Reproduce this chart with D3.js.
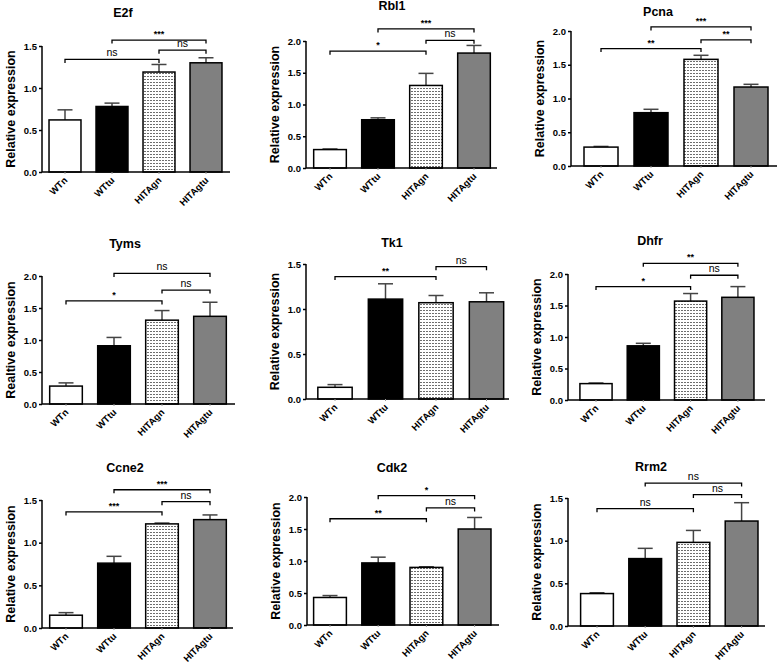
<!DOCTYPE html>
<html><head><meta charset="utf-8">
<script src="https://cdn.jsdelivr.net/npm/d3@7"></script>
<style>
html,body{margin:0;padding:0;background:#fff;}
svg{display:block;font-family:"Liberation Sans",Arial,Helvetica,sans-serif;}
</style></head>
<body>
<svg id="chart" width="778" height="666"></svg>
<script>
// ---------------- DATA ----------------
const groups = ["WTn", "WTtu", "HITAgn", "HITAgtu"];
const genes = ["E2f", "Rbl1", "Pcna", "Tyms", "Tk1", "Dhfr", "Ccne2", "Cdk2", "Rrm2"];
const yAxisTitles = ["Relative expression", "Relative expression", "Relative expression",
  "Realtive expression", "Relative expression", "Relative expression",
  "Relative expression", "Relative expression", "Relative expression"];
const yMaxes = [1.5, 2.0, 2.0, 2.0, 1.5, 2.0, 1.5, 2.0, 1.5];
const ticks15 = [0, 0.5, 1.0, 1.5];
const ticks20 = [0, 0.5, 1.0, 1.5, 2.0];

const meanE2f = [0.62, 0.78, 1.19, 1.30];   const errE2f = [0.12, 0.04, 0.09, 0.06];
const meanRbl1 = [0.29, 0.76, 1.30, 1.81];  const errRbl1 = [0.01, 0.03, 0.19, 0.12];
const meanPcna = [0.28, 0.79, 1.58, 1.17];  const errPcna = [0.01, 0.05, 0.06, 0.04];
const meanTyms = [0.28, 0.91, 1.31, 1.37];  const errTyms = [0.05, 0.13, 0.15, 0.22];
const meanTk1 = [0.13, 1.11, 1.07, 1.08];   const errTk1 = [0.03, 0.17, 0.08, 0.10];
const meanDhfr = [0.26, 0.86, 1.57, 1.63];  const errDhfr = [0.01, 0.04, 0.12, 0.17];
const meanCcne2 = [0.15, 0.76, 1.22, 1.27]; const errCcne2 = [0.03, 0.08, 0.01, 0.055];
const meanCdk2 = [0.43, 0.97, 0.90, 1.50];  const errCdk2 = [0.03, 0.09, 0.01, 0.18];
const meanRrm2 = [0.38, 0.79, 0.98, 1.23];  const errRrm2 = [0.01, 0.12, 0.14, 0.215];

// significance brackets: [from, to, label, height in data units]
const sigE2f = [["WTn","HITAgn","ns",1.34],["HITAgn","HITAgtu","ns",1.45],["WTtu","HITAgtu","***",1.57]];
const sigRbl1 = [["WTn","HITAgn","*",1.84],["HITAgn","HITAgtu","ns",2.01],["WTtu","HITAgtu","***",2.19]];
const sigPcna = [["WTn","HITAgn","**",1.74],["HITAgn","HITAgtu","**",1.87],["WTtu","HITAgtu","***",2.06]];
const sigTyms = [["WTn","HITAgn","*",1.61],["HITAgn","HITAgtu","ns",1.78],["WTtu","HITAgtu","ns",2.04]];
const sigTk1 = [["WTn","HITAgn","**",1.36],["HITAgn","HITAgtu","ns",1.47]];
const sigDhfr = [["WTn","HITAgn","*",1.80],["HITAgn","HITAgtu","ns",1.98],["WTtu","HITAgtu","**",2.17]];
const sigCcne2 = [["WTn","HITAgn","***",1.36],["HITAgn","HITAgtu","ns",1.48],["WTtu","HITAgtu","***",1.62]];
const sigCdk2 = [["WTn","HITAgn","**",1.66],["HITAgn","HITAgtu","ns",1.83],["WTtu","HITAgtu","*",2.02]];
const sigRrm2 = [["WTn","HITAgn","ns",1.375],["HITAgn","HITAgtu","ns",1.54],["WTtu","HITAgtu","ns",1.675]];

const allMeans = [meanE2f, meanRbl1, meanPcna, meanTyms, meanTk1, meanDhfr, meanCcne2, meanCdk2, meanRrm2];
const allErrs = [errE2f, errRbl1, errPcna, errTyms, errTk1, errDhfr, errCcne2, errCdk2, errRrm2];
const allSigs = [sigE2f, sigRbl1, sigPcna, sigTyms, sigTk1, sigDhfr, sigCcne2, sigCdk2, sigRrm2];

// ---------------- LAYOUT (pixels) ----------------
const layout = [
  {ax: 42,  y0: 172, yTop: 46,  c0: 65,  step: 47,   xEnd: 230, tx: 123, ty: 13},
  {ax: 306, y0: 168, yTop: 41,  c0: 330, step: 48,   xEnd: 497, tx: 392, ty: 6},
  {ax: 571, y0: 166, yTop: 31,  c0: 601, step: 50,   xEnd: 777, tx: 658, ty: 12},
  {ax: 42,  y0: 404, yTop: 276, c0: 66,  step: 48,   xEnd: 235, tx: 125, ty: 244},
  {ax: 306, y0: 399, yTop: 264, c0: 335, step: 50.5, xEnd: 509, tx: 392, ty: 243},
  {ax: 568, y0: 400, yTop: 274, c0: 596, step: 47.3, xEnd: 765, tx: 650, ty: 241},
  {ax: 42,  y0: 628, yTop: 500, c0: 66,  step: 48,   xEnd: 233, tx: 125, ty: 468},
  {ax: 307, y0: 625, yTop: 497, c0: 330, step: 48.2, xEnd: 499, tx: 392, ty: 468},
  {ax: 568, y0: 626, yTop: 498, c0: 597, step: 48.2, xEnd: 765, tx: 651, ty: 467}
];
const fills = ["#ffffff", "#000000", "url(#dots)", "#808080"];

// ---------------- DRAW ----------------
const svg = d3.select("#chart");
svg.append("rect").attr("width", 778).attr("height", 666).attr("fill", "#fff");

const defs = svg.append("defs");
const pat = defs.append("pattern").attr("id", "dots")
  .attr("patternUnits", "userSpaceOnUse").attr("width", 3).attr("height", 3);
pat.append("rect").attr("width", 3).attr("height", 3).attr("fill", "#fff");
pat.append("rect").attr("x", 0).attr("y", 1).attr("width", 2).attr("height", 1).attr("fill", "#6e6e6e");

genes.forEach((gene, gi) => {
  const L = layout[gi];
  const means = allMeans[gi], errs = allErrs[gi], sigs = allSigs[gi];
  const yMax = yMaxes[gi];
  const g = svg.append("g");

  const x = d3.scaleBand().domain(groups)
    .range([L.c0 - L.step / 2, L.c0 + 3.5 * L.step])
    .paddingInner(0.32).paddingOuter(0.16);
  const y = d3.scaleLinear().domain([0, yMax]).range([L.y0, L.yTop]);

  g.append("text").attr("x", L.tx).attr("y", L.ty).attr("dy", "0.35em")
    .attr("text-anchor", "middle").attr("font-weight", "bold").attr("font-size", 12.5)
    .text(gene);

  const data = groups.map((k, i) => ({k, m: means[i], e: errs[i], f: fills[i]}));
  const eb = g.append("g").attr("stroke", "#444").attr("stroke-width", 1.5);
  data.forEach(d => {
    const cx = x(d.k) + x.bandwidth() / 2;
    eb.append("line").attr("x1", cx).attr("x2", cx).attr("y1", y(d.m)).attr("y2", y(d.m + d.e));
    eb.append("line").attr("x1", cx - 7.5).attr("x2", cx + 7.5).attr("y1", y(d.m + d.e)).attr("y2", y(d.m + d.e));
  });
  g.selectAll("rect.bar").data(data).join("rect").attr("class", "bar")
    .attr("x", d => x(d.k)).attr("width", x.bandwidth())
    .attr("y", d => y(d.m)).attr("height", d => L.y0 - y(d.m))
    .attr("fill", d => d.f).attr("stroke", "#000").attr("stroke-width", 1.5);

  const yAxis = d3.axisLeft(y).tickValues(yMax === 2 ? ticks20 : ticks15)
    .tickFormat(d3.format(".1f")).tickSize(3).tickPadding(2);
  const ya = g.append("g").attr("transform", `translate(${L.ax},0)`).call(yAxis);
  ya.select(".domain").attr("d", `M0,${L.y0}V${L.yTop}`).attr("stroke-width", 1.5);
  ya.selectAll(".tick line").attr("stroke-width", 1.5);
  ya.selectAll(".tick text").attr("font-size", 9.5).attr("font-weight", "bold")
    .attr("font-family", "Liberation Sans, Arial, sans-serif").attr("fill", "#000");

  const xAxis = d3.axisBottom(x).tickSize(2).tickSizeOuter(0);
  const xa = g.append("g").attr("transform", `translate(0,${L.y0})`).call(xAxis);
  xa.select(".domain").attr("d", `M${L.ax},0H${L.xEnd}`).attr("stroke-width", 1.5);
  xa.selectAll(".tick line").attr("stroke", "#999");
  xa.selectAll(".tick text")
    .attr("font-size", 9.5).attr("font-weight", "bold").attr("fill", "#000")
    .attr("font-family", "Liberation Sans, Arial, sans-serif")
    .attr("text-anchor", "end").attr("dy", 0)
    .attr("transform", "translate(3,9) rotate(-45)").attr("y", 0).attr("x", 0);

  const ymid = (L.y0 + L.yTop) / 2;
  g.append("text").attr("transform", `translate(${L.ax - 27},${ymid}) rotate(-90)`)
    .attr("text-anchor", "middle").attr("font-weight", "bold").attr("font-size", 12.5)
    .text(yAxisTitles[gi]);

  sigs.forEach(([a, b, lab, h]) => {
    const xa1 = x(a) + x.bandwidth() / 2, xb1 = x(b) + x.bandwidth() / 2;
    const yy = y(h);
    g.append("path").attr("d", `M${xa1},${yy + 3.5}V${yy}H${xb1}V${yy + 3.5}`)
      .attr("fill", "none").attr("stroke", "#000").attr("stroke-width", 1.3);
    g.append("text").attr("x", (xa1 + xb1) / 2).attr("y", yy - 3)
      .attr("text-anchor", "middle").attr("font-size", lab === "ns" ? 10.5 : 9)
      .attr("font-weight", lab === "ns" ? "normal" : "bold")
      .text(lab);
  });
});
</script>
</body></html>
